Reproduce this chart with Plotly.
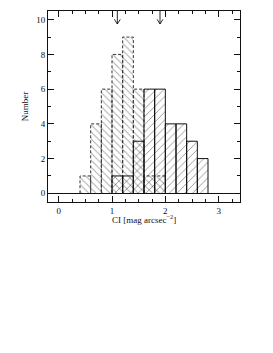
import plotly.graph_objects as go

BIN_WIDTH = 0.2
# Dashed-outline histogram (backslash hatch)
dashed_left = [0.4, 0.6, 0.8, 1.0, 1.2, 1.4, 1.6, 1.8]
dashed_counts = [1, 4, 6, 8, 9, 6, 1, 1]
# Solid-outline histogram (slash hatch)
solid_left = [1.0, 1.2, 1.4, 1.6, 1.8, 2.0, 2.2, 2.4, 2.6]
solid_counts = [1, 1, 3, 6, 6, 4, 4, 3, 2]
# Arrow markers (median values)
arrow_x = [1.1, 1.9]

x_ticks = [0, 1, 2, 3]
y_ticks = [0, 2, 4, 6, 8, 10]

FONT = "Liberation Serif"
INK = "#111111"
Y_TOP = 10.5
ARROW_TIP = 9.75
HEAD_DX, HEAD_DY = 0.055, 0.27


def boxes(lefts, counts, w):
    xs, ys = [], []
    for l, c in zip(lefts, counts):
        xs += [l, l, l + w, l + w, None]
        ys += [0, c, c, 0, None]
    return xs, ys


fig = go.Figure()

fig.add_trace(go.Bar(
    x=[l + BIN_WIDTH / 2 for l in dashed_left], y=dashed_counts, width=BIN_WIDTH,
    marker=dict(color="rgba(0,0,0,0)", line=dict(width=0),
                pattern=dict(shape="\\", fgcolor="#555555", size=5, solidity=0.2)),
    showlegend=False, hoverinfo="skip"))
fig.add_trace(go.Bar(
    x=[l + BIN_WIDTH / 2 for l in solid_left], y=solid_counts, width=BIN_WIDTH,
    marker=dict(color="rgba(0,0,0,0)", line=dict(width=0),
                pattern=dict(shape="/", fgcolor=INK, size=5.5, solidity=0.15)),
    showlegend=False, hoverinfo="skip"))

dx, dy = boxes(dashed_left, dashed_counts, BIN_WIDTH)
fig.add_trace(go.Scatter(x=dx, y=dy, mode="lines",
                         line=dict(color="#333333", width=1, dash="3px,2px"),
                         showlegend=False, hoverinfo="skip"))
sx, sy = boxes(solid_left, solid_counts, BIN_WIDTH)
fig.add_trace(go.Scatter(x=sx, y=sy, mode="lines",
                         line=dict(color=INK, width=1),
                         showlegend=False, hoverinfo="skip"))

# arrows: shaft + open V head
axs, ays = [], []
for a in arrow_x:
    axs += [a, a, None, a - HEAD_DX, a, a + HEAD_DX, None]
    ays += [Y_TOP, ARROW_TIP, None, ARROW_TIP + HEAD_DY, ARROW_TIP, ARROW_TIP + HEAD_DY, None]
fig.add_trace(go.Scatter(x=axs, y=ays, mode="lines", line=dict(color=INK, width=0.9),
                         showlegend=False, hoverinfo="skip", cliponaxis=False))

fig.add_annotation(x=0.5, y=0, xref="paper", yref="paper", xanchor="center",
                   yanchor="top", yshift=-9, showarrow=False,
                   text="CI [mag arcsec<sup>−2</sup>]",
                   font=dict(family=FONT, size=9, color=INK))

fig.update_layout(
    width=265, height=345,
    margin=dict(l=40, r=33, t=3, b=151),
    paper_bgcolor="white", plot_bgcolor="white",
    barmode="overlay", bargap=0,
    font=dict(family=FONT, size=9, color=INK),
    xaxis=dict(range=[-0.2, 3.4], tickvals=x_ticks, ticks="inside", ticklen=6,
               tickcolor=INK, showline=True, linecolor=INK, linewidth=1,
               mirror="allticks", showgrid=False, zeroline=False,
               minor=dict(dtick=0.25, tick0=0, ticks="inside", ticklen=3, tickcolor=INK),
               tickfont=dict(family=FONT, size=9, color=INK)),
    yaxis=dict(range=[-0.5, Y_TOP], tickvals=y_ticks, ticks="inside", ticklen=6,
               tickcolor=INK, showline=True, linecolor=INK, linewidth=1,
               mirror="allticks", showgrid=False, zeroline=True, zerolinecolor=INK,
               zerolinewidth=1,
               minor=dict(dtick=1, tick0=0, ticks="inside", ticklen=3, tickcolor=INK),
               title=dict(text="Number", standoff=6, font=dict(family=FONT, size=9, color=INK)),
               tickfont=dict(family=FONT, size=9, color=INK)),
)

fig.write_html("out.html")
